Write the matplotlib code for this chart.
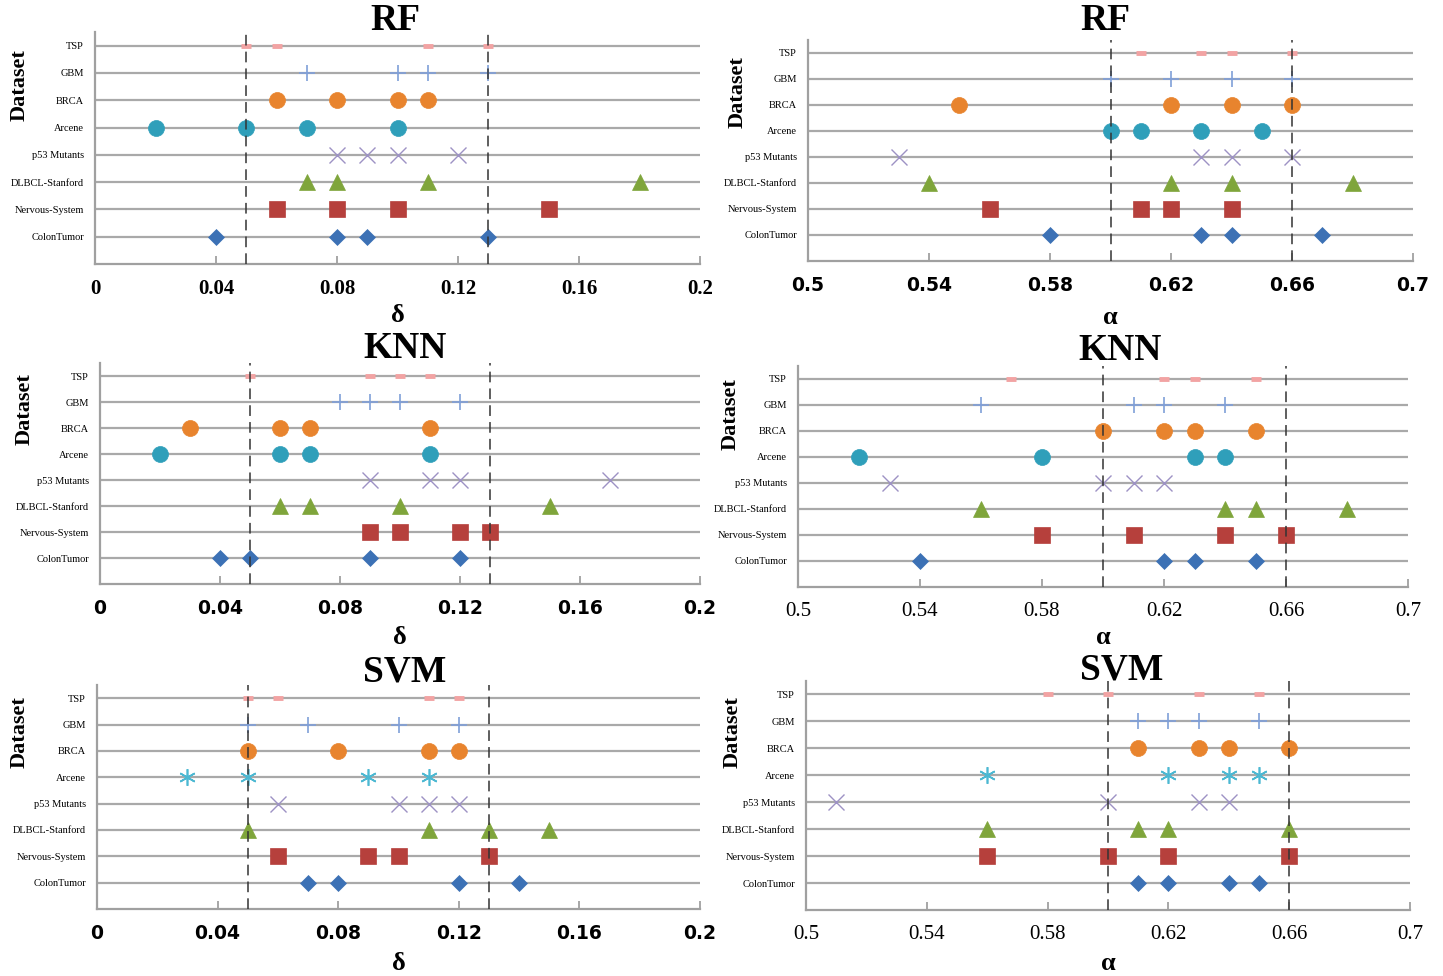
import matplotlib
matplotlib.use("Agg")
import matplotlib.pyplot as plt

# rows, bottom to top
datasets = ["ColonTumor", "Nervous-System", "DLBCL-Stanford", "p53 Mutants",
            "Arcene", "BRCA", "GBM", "TSP"]

delta_ticks = [0, 0.04, 0.08, 0.12, 0.16, 0.2]
alpha_ticks = [0.5, 0.54, 0.58, 0.62, 0.66, 0.7]
delta_bounds = [0.05, 0.13]
alpha_bounds = [0.60, 0.66]

# values (4 per dataset)
rf_delta = {
    "TSP": [0.05, 0.06, 0.11, 0.13],
    "GBM": [0.07, 0.10, 0.11, 0.13],
    "BRCA": [0.06, 0.08, 0.10, 0.11],
    "Arcene": [0.02, 0.05, 0.07, 0.10],
    "p53 Mutants": [0.08, 0.09, 0.10, 0.12],
    "DLBCL-Stanford": [0.07, 0.08, 0.11, 0.18],
    "Nervous-System": [0.06, 0.08, 0.10, 0.15],
    "ColonTumor": [0.04, 0.08, 0.09, 0.13],
}
rf_alpha = {
    "TSP": [0.61, 0.63, 0.64, 0.66],
    "GBM": [0.60, 0.62, 0.64, 0.66],
    "BRCA": [0.55, 0.62, 0.64, 0.66],
    "Arcene": [0.60, 0.61, 0.63, 0.65],
    "p53 Mutants": [0.53, 0.63, 0.64, 0.66],
    "DLBCL-Stanford": [0.54, 0.62, 0.64, 0.68],
    "Nervous-System": [0.56, 0.61, 0.62, 0.64],
    "ColonTumor": [0.58, 0.63, 0.64, 0.67],
}
knn_delta = {
    "TSP": [0.05, 0.09, 0.10, 0.11],
    "GBM": [0.08, 0.09, 0.10, 0.12],
    "BRCA": [0.03, 0.06, 0.07, 0.11],
    "Arcene": [0.02, 0.06, 0.07, 0.11],
    "p53 Mutants": [0.09, 0.11, 0.12, 0.17],
    "DLBCL-Stanford": [0.06, 0.07, 0.10, 0.15],
    "Nervous-System": [0.09, 0.10, 0.12, 0.13],
    "ColonTumor": [0.04, 0.05, 0.09, 0.12],
}
knn_alpha = {
    "TSP": [0.57, 0.62, 0.63, 0.65],
    "GBM": [0.56, 0.61, 0.62, 0.64],
    "BRCA": [0.60, 0.62, 0.63, 0.65],
    "Arcene": [0.52, 0.58, 0.63, 0.64],
    "p53 Mutants": [0.53, 0.60, 0.61, 0.62],
    "DLBCL-Stanford": [0.56, 0.64, 0.65, 0.68],
    "Nervous-System": [0.58, 0.61, 0.64, 0.66],
    "ColonTumor": [0.54, 0.62, 0.63, 0.65],
}
svm_delta = {
    "TSP": [0.05, 0.06, 0.11, 0.12],
    "GBM": [0.05, 0.07, 0.10, 0.12],
    "BRCA": [0.05, 0.08, 0.11, 0.12],
    "Arcene": [0.03, 0.05, 0.09, 0.11],
    "p53 Mutants": [0.06, 0.10, 0.11, 0.12],
    "DLBCL-Stanford": [0.05, 0.11, 0.13, 0.15],
    "Nervous-System": [0.06, 0.09, 0.10, 0.13],
    "ColonTumor": [0.07, 0.08, 0.12, 0.14],
}
svm_alpha = {
    "TSP": [0.58, 0.60, 0.63, 0.65],
    "GBM": [0.61, 0.62, 0.63, 0.65],
    "BRCA": [0.61, 0.63, 0.64, 0.66],
    "Arcene": [0.56, 0.62, 0.64, 0.65],
    "p53 Mutants": [0.51, 0.60, 0.63, 0.64],
    "DLBCL-Stanford": [0.56, 0.61, 0.62, 0.66],
    "Nervous-System": [0.56, 0.60, 0.62, 0.66],
    "ColonTumor": [0.61, 0.62, 0.64, 0.65],
}

# marker style per dataset
styles = {
    "TSP": dict(marker="_", ms=7, mew=3.5, color="#f2a3a3"),
    "GBM": dict(marker="+", ms=12, mew=1.2, color="#7f9fd8"),
    "BRCA": dict(marker="o", ms=11.5, mew=0.5, color="#e8842e"),
    "Arcene": dict(marker="o", ms=11.5, mew=0.5, color="#2f9fba"),
    "p53 Mutants": dict(marker="x", ms=11, mew=1.0, color="#9d92c4"),
    "DLBCL-Stanford": dict(marker="^", ms=11, mew=0.5, color="#7fa53b"),
    "Nervous-System": dict(marker="s", ms=11, mew=0.5, color="#b6403c"),
    "ColonTumor": dict(marker="D", ms=8, mew=0.5, color="#3c71b5"),
}
svm_arcene = dict(marker=(6, 2, 0), ms=12, mew=1.2, color="#4cb8d2")

SERIF = "Liberation Serif"
SANS = "DejaVu Sans"
W, H = 1443, 976

# name, data, ticks, bounds, xlabel, axes box (px: left, right, top, bottom),
# title pos, ylabel pos, tick font, tick weight, xlabel y
panels = [
    ("RF", rf_delta, delta_ticks, delta_bounds, "δ", (95, 700, 32, 264), (395, 20), (20, 85), SERIF, "bold", 315),
    ("RF", rf_alpha, alpha_ticks, alpha_bounds, "α", (808, 1413, 40, 261), (1105, 20), (738, 92), SANS, "bold", 317),
    ("KNN", knn_delta, delta_ticks, delta_bounds, "δ", (100, 700, 363, 584), (405, 348), (25, 409), SANS, "bold", 637),
    ("KNN", knn_alpha, alpha_ticks, alpha_bounds, "α", (798, 1408, 366, 587), (1120, 350), (731, 414), SERIF, "normal", 637),
    ("SVM", svm_delta, delta_ticks, delta_bounds, "δ", (97, 700, 685, 909), (405, 672), (20, 732), SANS, "bold", 963),
    ("SVM", svm_alpha, alpha_ticks, alpha_bounds, "α", (806, 1410, 681, 910), (1122, 670), (733, 732), SERIF, "normal", 963),
]

fig = plt.figure(figsize=(W / 100, H / 100), dpi=100)

for title, data, ticks, bounds, xlab, box, tpos, ypos, tfont, tweight, xlab_y in panels:
    l, r, t, b = box
    ax = fig.add_axes([l / W, 1 - b / H, (r - l) / W, (b - t) / H])
    ax.set_xlim(ticks[0], ticks[-1])
    ax.set_ylim(0, 8.5)

    for i, name in enumerate(datasets):
        st = styles[name]
        if title == "SVM" and name == "Arcene":
            st = svm_arcene
        ax.plot(data[name], [i + 1] * len(data[name]), linestyle="none",
                marker=st["marker"], ms=st["ms"], mew=st["mew"],
                color=st["color"], mec=st["color"], zorder=3)

    for v in bounds:
        ax.axvline(v, color="#333333", lw=1.1, dashes=(7, 4), zorder=4)

    ax.set_yticks(range(1, len(datasets) + 1))
    ax.set_yticklabels(datasets, fontfamily=SERIF, fontsize=7.5)
    ax.yaxis.grid(True, color="#a9a9a9", lw=1.6)
    ax.set_axisbelow(True)
    ax.tick_params(axis="y", length=0, pad=8)

    ax.set_xticks(ticks)
    ax.set_xticklabels(["%g" % v for v in ticks], fontfamily=tfont,
                       fontweight=tweight, fontsize=15 if tfont == SERIF else 13.5)
    ax.tick_params(axis="x", direction="in", length=6, color="#a0a0a0", width=1.3, pad=11)

    for s in ["top", "right"]:
        ax.spines[s].set_visible(False)
    for s in ["left", "bottom"]:
        ax.spines[s].set_color("#a0a0a0")
        ax.spines[s].set_linewidth(1.6)

    fig.text(tpos[0] / W, 1 - tpos[1] / H, title, fontfamily=SERIF, fontweight="bold",
             fontsize=27, ha="center", va="center")
    fig.text(ypos[0] / W, 1 - ypos[1] / H, "Dataset", fontfamily=SERIF, fontweight="bold",
             fontsize=16, rotation=90, ha="center", va="center")
    fig.text((l + r) / 2 / W, 1 - xlab_y / H, xlab, fontfamily=SERIF, fontweight="bold",
             fontsize=19, ha="center", va="center")

fig.savefig("out.png", dpi=100)
